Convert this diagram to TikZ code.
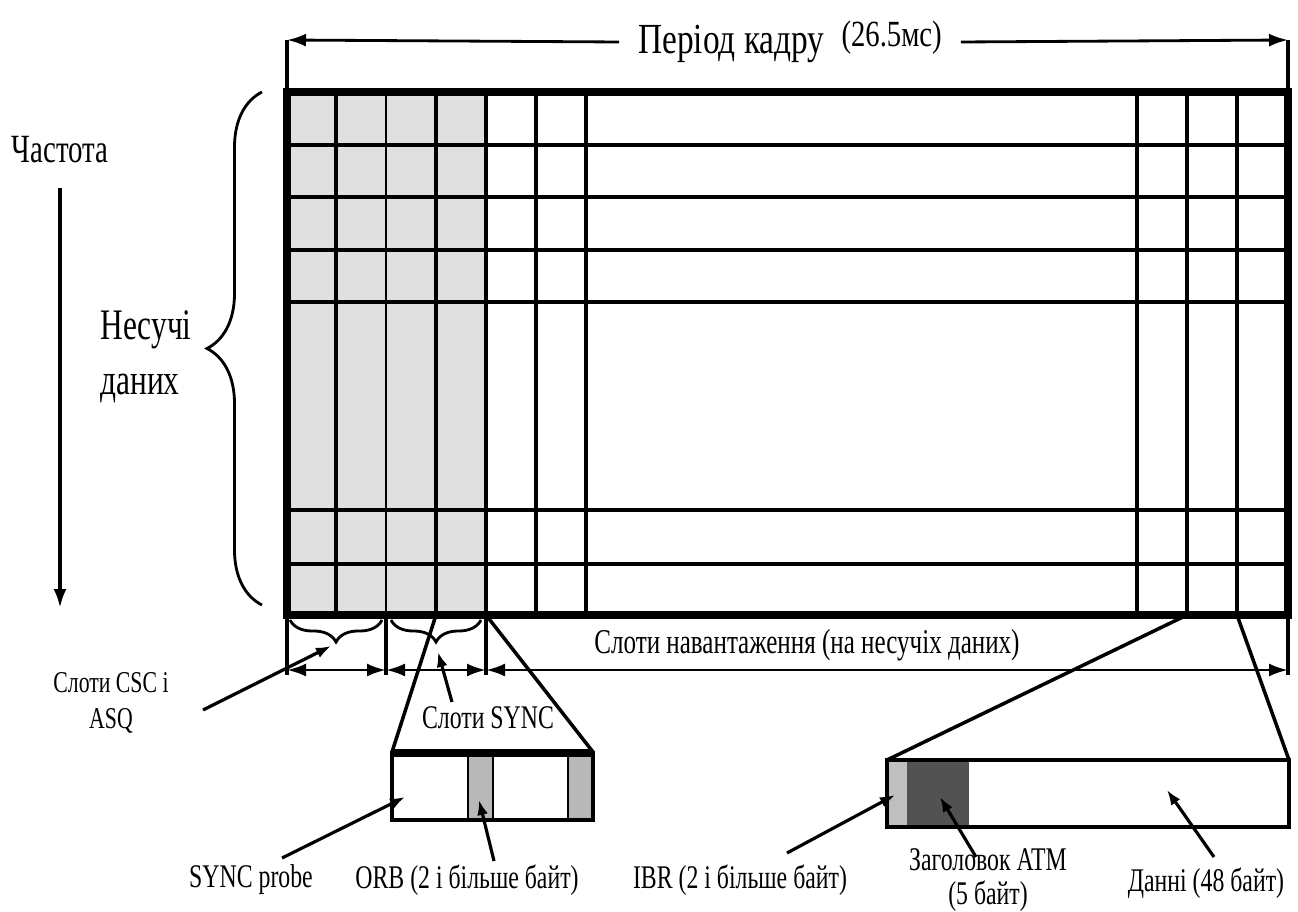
\documentclass[tikz,border=0pt]{standalone}
\usepackage{fontspec}
\setmainfont{Liberation Serif}
\usetikzlibrary{arrows.meta,decorations.pathreplacing,positioning,calc}

\tikzset{
  lbl/.style={inner sep=0pt, xscale=0.72},
  ptr/.style={-{Latex[length=1.5mm,width=1.1mm]}, line width=0.9pt},
  dimarrow/.style={{Latex[length=1.9mm,width=1.3mm]}-{Latex[length=1.9mm,width=1.3mm]}, line width=0.8pt},
  brc/.style={decorate, decoration={brace, amplitude=#1}, line width=0.8pt},
  small/.style={font=\fontsize{9.4}{9.8}\selectfont}
}

\begin{document}
\begin{tikzpicture}[x=0.1mm,y=-0.1mm]
\useasboundingbox (0,0) rectangle (1298,912);

% Frame corners and marks
\coordinate (nw) at (287,92);
\coordinate (ne) at (1288,92);
\coordinate (sw) at (287,615);
\coordinate (se) at (1288,615);
\coordinate (fl) at (287,40);
\coordinate (fr) at (1288,40);

% Carriers x slots grid
\fill[black!12] (nw) rectangle (486,615);
\foreach \y in {145,197,250,302,510,564} {
    \draw[line width=1.4pt] (287,\y) -- (1288,\y);
}
\foreach \x/\w in {336/0.9,386/0.6,436/1.2,486/1.2,536/1.2,586/1.2,1137/1.0,1187/1.2,1237/1.2} {
    \draw[line width=\w pt] (\x,92) -- (\x,615);
}
\draw[line width=2.2pt] (nw) rectangle (se);

% Frame period
\node[lbl, xscale=1.08, inner xsep=2.4mm, font=\fontsize{12.2}{13}\selectfont] (period) at (790,42)
    {Період кадру\hspace{2.2mm}\raisebox{2pt}{\fontsize{10.5}{11}\selectfont(26.5мс)}};
\draw[line width=1pt] (nw) -- (fl);
\draw[line width=1pt] (ne) -- (fr);
\draw[-{Latex[length=1.9mm,width=1.3mm]}, line width=0.8pt] (period.west) -- (fl);
\draw[-{Latex[length=1.9mm,width=1.3mm]}, line width=0.8pt] (period.east) -- (fr);

% Frequency axis
\node[lbl, font=\fontsize{11.4}{12}\selectfont] (freq) at (60,150) {Частота};
\coordinate (fend) at (60,608);
\draw[-{Latex[length=1.9mm,width=1.3mm]}, line width=1pt, shorten <=2.4mm] (freq.south) -- (fend);

% Data carriers
\draw[brc=5.5mm] (262,605) -- (262,92);
\node[lbl, anchor=west, align=left, font=\fontsize{12.4}{15.6}\selectfont] (carr) at (100,357) {Несучі\\даних};

% Slots under the frame
\draw[brc=2.2mm] (382,620) -- (290,620);
\draw[brc=2.2mm] (481,620) -- (391,620);
\coordinate (csctip) at (331,646);
\coordinate (synctip) at (438,652);
\coordinate (b0) at (287,670);
\coordinate (b1) at (386,670);
\coordinate (b2) at (486,670);
\coordinate (b3) at (1288,670);
\foreach \x in {287,386,486,1288} {
    \draw[line width=0.9pt] (\x,615) -- (\x,675);
}
\draw[dimarrow] (b0) -- (b1);
\draw[dimarrow] (b1) -- (b2);
\draw[dimarrow] (b2) -- (b3);
\node[lbl, font=\fontsize{9.9}{12}\selectfont] (payload) at (807,645) {Слоти навантаження (на несучіх даних)};

\node[lbl, small, align=center, font=\fontsize{8.6}{10}\selectfont] (csc) at (111,703) {Слоти CSC і\\ASQ};
\coordinate (csctail) at (203,710);
\draw[ptr] (csctail) -- (csctip);
\node[lbl, small] (sync) at (488,718) {Слоти SYNC};
\coordinate (synctail) at (452,702);
\draw[ptr] (synctail) -- (synctip);

% SYNC slot in detail
\draw[line width=1pt] (436,615) -- (392,752);
\draw[line width=1pt] (486,615) -- (593,752);
\fill[black!28] (468,753) rectangle (493,820);
\fill[black!28] (568,753) rectangle (593,820);
\draw[line width=0.9pt] (392,753) rectangle (593,820);
\draw[line width=0.6pt] (468,753) -- (468,820) (493,753) -- (493,820) (568,753) -- (568,820);
\draw[line width=2pt] (392,753) -- (593,753);

\node[lbl, small] (probe) at (251,880) {SYNC probe};
\node[lbl, small] (orb) at (467,880) {ORB (2 і більше байт)};
\coordinate (probetail) at (282,858);
\coordinate (probetip) at (405,797);
\coordinate (orbtail) at (494,861);
\coordinate (orbtip) at (479,800);
\draw[ptr] (probetail) -- (probetip);
\draw[ptr] (orbtail) -- (orbtip);

% Payload slot in detail
\draw[line width=1pt] (1187,615) -- (887,760);
\draw[line width=1pt] (1237,615) -- (1289,760);
\fill[black!25] (887,760) rectangle (907,827);
\fill[black!68] (907,760) rectangle (969,827);
\draw[line width=0.9pt] (887,760) rectangle (1289,827);

\node[lbl, small] (ibr) at (740,880) {IBR (2 і більше байт)};
\node[lbl, small, align=center] (atm) at (988,880) {Заголовок ATM\\(5 байт)};
\node[lbl, small] (data) at (1206,883) {Данні (48 байт)};
\coordinate (ibrtail) at (787,853);
\coordinate (ibrtip) at (895,795);
\coordinate (atmtail) at (976,857);
\coordinate (atmtip) at (940,797);
\coordinate (datatail) at (1214,857);
\coordinate (datatip) at (1167,790);
\draw[ptr] (ibrtail) -- (ibrtip);
\draw[ptr] (atmtail) -- (atmtip);
\draw[ptr] (datatail) -- (datatip);
\end{tikzpicture}
\end{document}
